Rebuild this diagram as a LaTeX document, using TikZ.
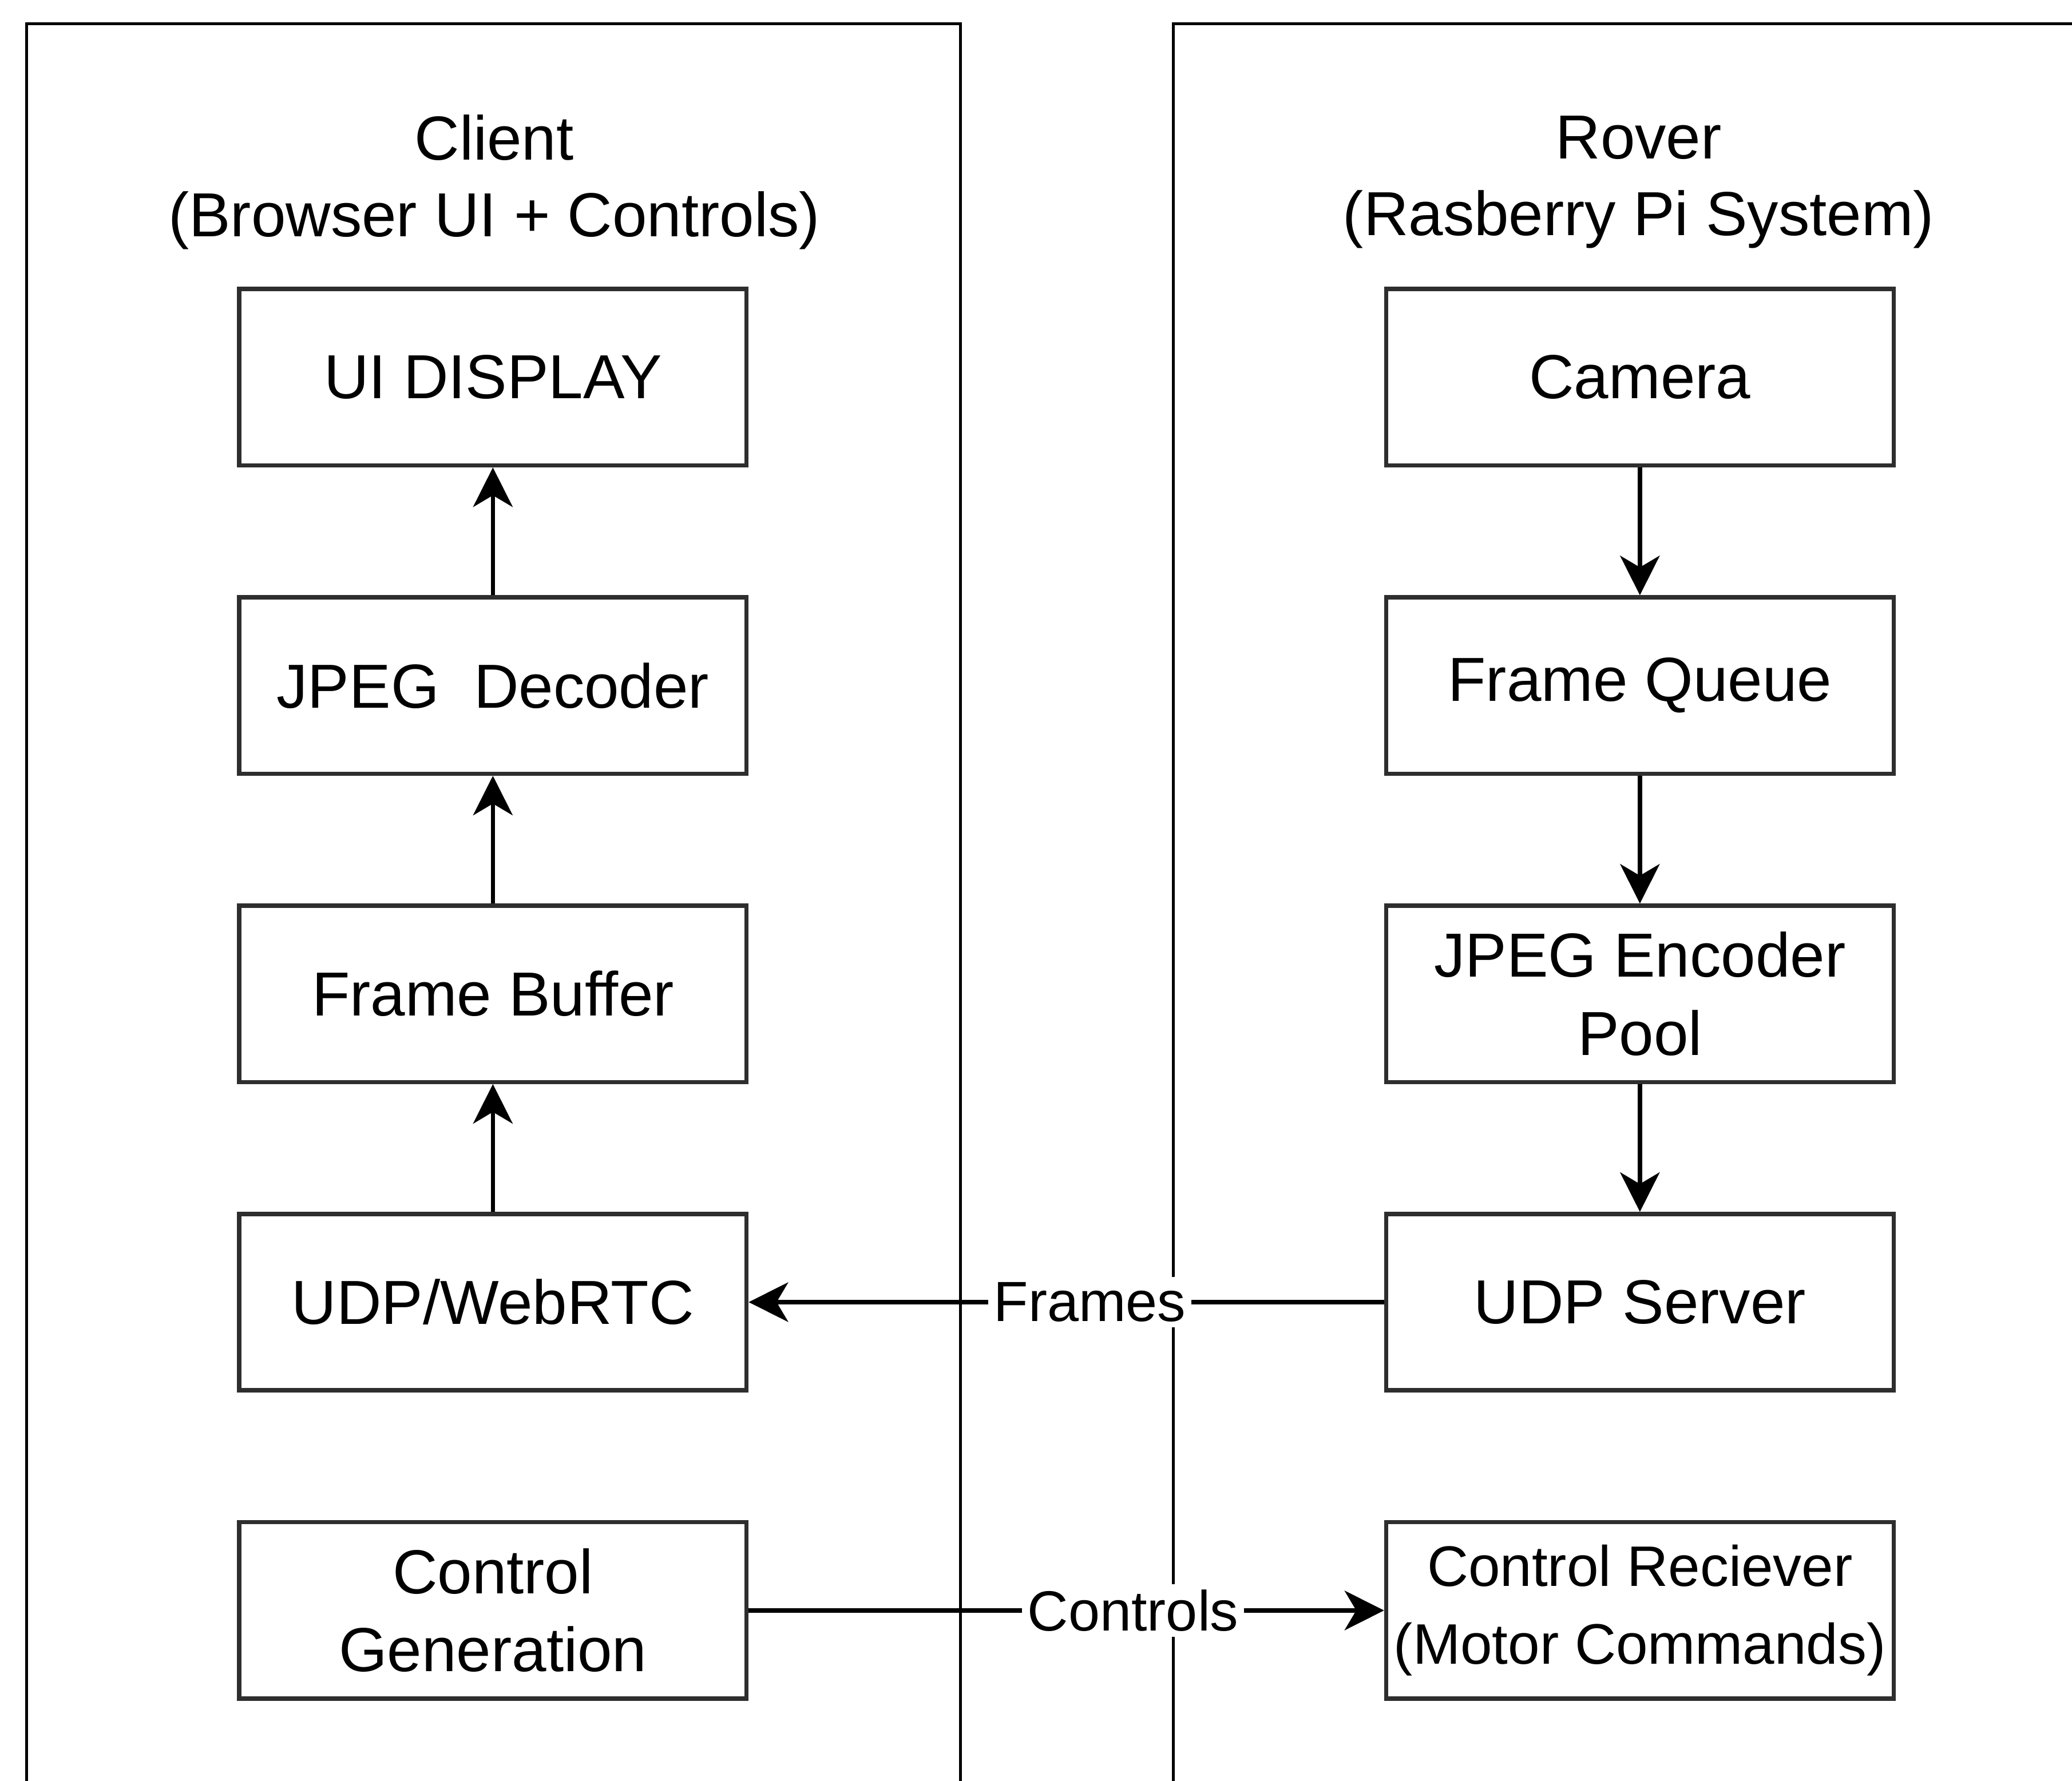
\documentclass[tikz,border=0pt]{standalone}
\usepackage{fontspec}
\setmainfont{Liberation Sans}
\usepackage{xcolor}
\definecolor{bxgray}{HTML}{2E2E2E}
\usetikzlibrary{arrows.meta,positioning}

\begin{document}
\begin{tikzpicture}[x=0.1mm,y=-0.1mm,node distance=9.67mm,
  blk/.style={draw=bxgray,line width=0.9pt,fill=white,minimum width=38.4mm,minimum height=13.35mm,
    inner sep=1pt,align=center,font=\fontsize{13.4}{16.8}\selectfont},
  ttl/.style={align=center,font=\fontsize{13.4}{16.5}\selectfont},
  flow/.style={line width=0.9pt,-{Stealth[length=8.5pt,width=8.5pt,inset=2.5pt]}},
  lane/.style={line width=0.6pt},
  lbl/.style={fill=white,inner sep=1.2pt,font=\fontsize{12.2}{14}\selectfont}]
\useasboundingbox (0,0) rectangle (1568,1348);
% swimlanes (open at the bottom / right)
\draw[lane] (20,1348) -- (20,18) -- (727,18) -- (727,1348);
\draw[lane] (888,1348) -- (888,18) -- (1568,18);
\node[ttl] (ctitle) at (374,138) {Client\\(Browser UI + Controls)};
\node[ttl] (rtitle) at (1240,138) {Rover\\(Rasberry Pi System)};
% client column
\node[blk] (disp) at (373,285.5) {UI DISPLAY};
\node[blk,below=of disp] (dec) {JPEG\ \ Decoder};
\node[blk,below=of dec] (buf) {Frame Buffer};
\node[blk,below=of buf] (udp) {UDP/WebRTC};
\node[blk,below=of udp] (ctrl) {Control\\Generation};
% rover column
\node[blk] (cam) at (1241,285.5) {Camera};
\node[blk,below=of cam] (fq) {Frame Queue};
\node[blk,below=of fq] (enc) {JPEG Encoder\\Pool};
\node[blk,below=of enc] (srv) {UDP Server};
\node[blk,below=of srv,font=\fontsize{12.3}{16.8}\selectfont] (rcv) {Control Reciever\\(Motor Commands)};
% pipelines
\foreach \a/\b in {udp/buf,buf/dec,dec/disp,cam/fq,fq/enc,enc/srv}
  \draw[flow] (\a) -- (\b);
% links between the two sides
\draw[flow] (srv) -- node[lbl,pos=0.463] {Frames} (udp);
\draw[flow] (ctrl) -- node[lbl,pos=0.605] {Controls} (rcv);
\end{tikzpicture}
\end{document}
